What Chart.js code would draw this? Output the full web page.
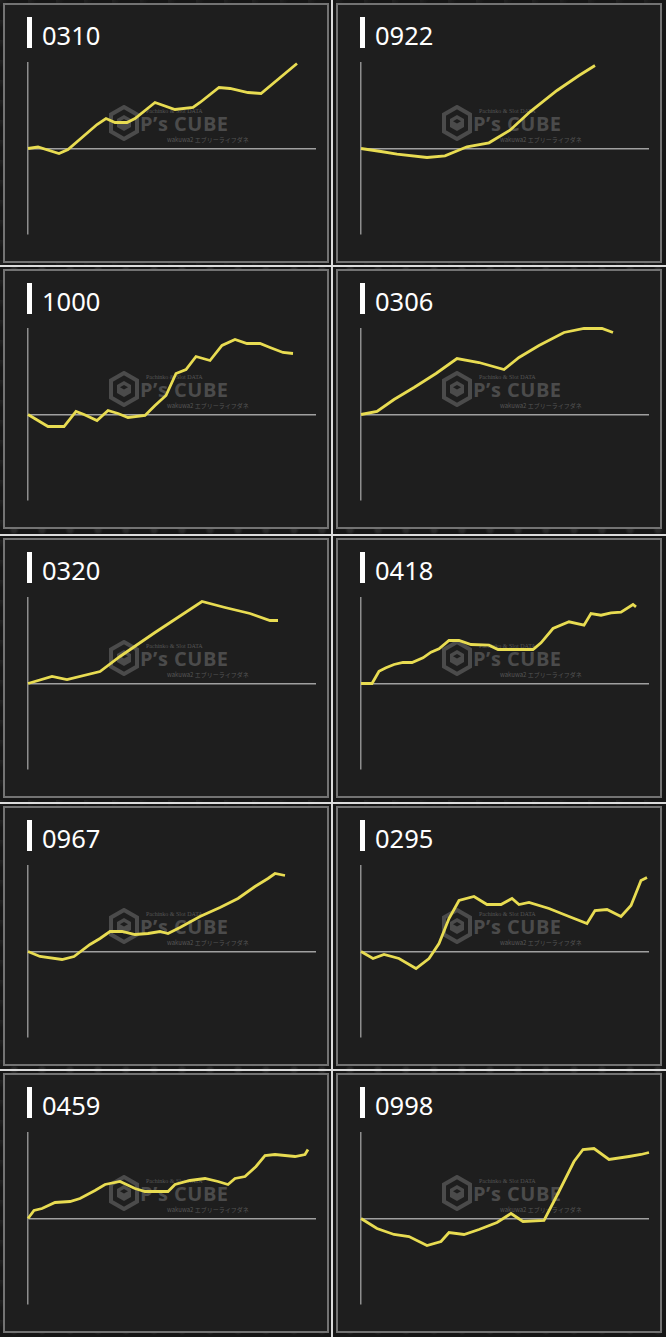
<!DOCTYPE html>
<html>
<head>
<meta charset="utf-8">
<script src="https://cdn.jsdelivr.net/npm/chart.js@4/dist/chart.umd.min.js"></script>
<style>
  html, body { margin: 0; padding: 0; }
  body {
    width: 666px; height: 1337px; position: relative; overflow: hidden;
    background-color: #161616;
    background-image: radial-gradient(circle at 50% 50%, #2a2a2a 0, #2a2a2a 2px, transparent 5px),
                      radial-gradient(circle at 0 0, #222 0, transparent 8px);
    background-size: 28px 20px, 28px 20px;
  }
  .sep-h { position: absolute; left: 0; width: 666px; height: 2px; background: #dcdcdc; }
  .sep-v { position: absolute; top: 0; width: 2px; height: 1337px; background: #dcdcdc; left: 331px; }
  .panel {
    position: absolute; width: 322px; height: 256px;
    background: #1e1e1e; border: 2px solid #737373;
  }
  .bar { position: absolute; left: 22px; top: 12px; width: 5px; height: 31px; background: #fff; }
  .title {
    position: absolute; left: 37px; top: 13px; color: #fff;
    font-family: "Noto Sans", "DejaVu Sans", sans-serif; font-size: 25.5px; line-height: 34px;
  }
  .mark { position: absolute; left: 104px; top: 100px; width: 130px; height: 42px; color: #4b4b4b; }
  .mark svg { position: absolute; left: 0; top: 0; }
  .mark .big { position: absolute; left: 31px; top: 8px; font: bold 20px/22px "Open Sans", "DejaVu Sans", sans-serif; letter-spacing: 0.5px; }
  .mark .s1 { position: absolute; left: 37px; top: 3px; font: 6px/7px "Liberation Serif", serif; color: #555; }
  .mark .s2 { position: absolute; left: 58px; top: 31px; font: 6px/7px "Noto Sans CJK JP", sans-serif; color: #555; white-space: nowrap; }
  canvas { position: absolute; left: 13px; top: 48px; }
</style>
</head>
<body>
<script>
// panel labels, in reading order (left, right per row)
const panelIds = ['0310', '0922', '1000', '0306', '0320', '0418', '0967', '0295', '0459', '0998'];

// each series: [game offset, difference] (axis range 0..288, -85.5..85.5)
const s0310 = [[0,0],[10,1.5],[31,-5],[40,-1],[69,24],[78,30],[87,26],[99,26],[107,30],[127,46],[147,39],[165,41],[172,46],[191,61],[202,60],[220,56],[233,55],[269,85]];
const s0922 = [[0,0],[20,-3],[36,-5.7],[66,-9],[84,-7.3],[106,1.7],[128,5.7],[149,18.3],[169,36.7],[196,58],[218,73],[234,83]];
const s1000 = [[0,0],[20,-12],[36,-12],[48,3],[56,0],[69,-6],[80,4],[90,1],[100,-3],[117,-1],[127,9],[138,19],[148,41],[158,45],[168,58],[182,54],[194,69],[207,75],[219,71],[232,71],[242,67],[255,62],[265,61]];
const s0306 = [[0,0],[16,3],[33,15],[53,27],[75,41],[96,56],[118,52],[143,45],[158,57],[178,69],[203,82],[223,86],[241,86],[252,82]];
const s0320 = [[0,0],[24,7],[39,4],[72,12],[92,27],[127,51],[174,82],[197,76],[222,70],[242,63],[250,63]];
const s0418 = [[0,0],[11,0],[18,12.3],[25,15.7],[33,19],[42,21],[51,21],[62,25.7],[70,31.3],[78,34.7],[88,43],[98,43],[110,39],[128,38.3],[137,34],[152,34],[172,34],[180,40.7],[192,55],[208,61.7],[223,58.3],[230,70],[240,68.3],[250,70.7],[260,71.3],[272,79],[275,76.7]];
const s0967 = [[0,0],[12,-5],[34,-8],[46,-5],[62,7],[72,13],[82,20],[94,20],[107,17],[120,18],[132,20],[140,18],[152,24],[172,35],[192,44],[210,53],[227,65],[240,73],[247,78],[257,76]];
const s0295 = [[0,0],[12,-7],[23,-3],[38,-7],[55,-17],[68,-7],[78,8],[88,33],[98,51],[113,55],[126,47],[140,47],[151,53],[158,47],[168,49],[188,43],[208,35],[226,28],[234,41],[246,42],[260,35],[270,46],[280,71],[286,74]];
const s0459 = [[0,0],[6,8],[14,10],[27,16],[42,17],[52,20],[67,28],[77,34],[92,37],[107,30],[117,27],[140,27],[147,34],[162,38],[177,40],[190,37],[200,34],[207,40],[217,42],[228,52],[237,63],[247,64],[267,62],[277,64],[280,69]];
const s0998 = [[0,0],[16,-10],[33,-16],[48,-18],[66,-27],[80,-23],[88,-14],[103,-16],[118,-11],[136,-4],[150,5],[162,-3],[183,-2],[198,27],[213,57],[222,69],[233,70],[248,59],[268,62],[280,64],[288,66]];

const allSeries = [s0310, s0922, s1000, s0306, s0320, s0418, s0967, s0295, s0459, s0998];
const xMax = 288;
const yLimit = 85.5;

const rowTops = [3, 269, 538, 806, 1073];
const colLefts = [3, 336];

[265, 534, 802, 1069].forEach(y => {
    const d = document.createElement('div');
    d.className = 'sep-h';
    d.style.top = y + 'px';
    document.body.appendChild(d);
});
const sepV = document.createElement('div');
sepV.className = 'sep-v';
document.body.appendChild(sepV);

const hexSvg = `<svg width="30" height="36" viewBox="0 0 30 36">
  <polygon points="15,2 28,9.5 28,26.5 15,34 2,26.5 2,9.5" fill="none" stroke="#4b4b4b" stroke-width="4"/>
  <polygon points="15,10 22,14 22,22 15,26 8,22 8,14" fill="#4b4b4b"/>
  <polygon points="15,14 19,16.3 15,18.6 11,16.3" fill="#1e1e1e"/>
</svg>`;

panelIds.forEach((id, i) => {
    const panel = document.createElement('div');
    panel.className = 'panel';
    panel.style.left = colLefts[i % 2] + 'px';
    panel.style.top = rowTops[Math.floor(i / 2)] + 'px';
    panel.innerHTML = `
        <div class="bar"></div>
        <div class="title">${id}</div>
        <div class="mark">${hexSvg}
            <span class="s1">Pachinko &amp; Slot DATA</span>
            <span class="big">P’s CUBE</span>
            <span class="s2">wakuwa2 エブリーライフダネ</span>
        </div>`;
    const canvas = document.createElement('canvas');
    canvas.width = 312;
    canvas.height = 192;
    canvas.style.width = '312px';
    canvas.style.height = '192px';
    panel.appendChild(canvas);
    document.body.appendChild(panel);

    new Chart(canvas.getContext('2d'), {
        type: 'line',
        data: {
            datasets: [{
                data: allSeries[i].map(([x, y]) => ({ x, y })),
                borderColor: 'rgb(232, 220, 82)',
                borderWidth: 2.8,
                pointRadius: 0,
                tension: 0,
                fill: false,
                clip: false
            }]
        },
        options: {
            responsive: false,
            animation: false,
            events: [],
            layout: { padding: { left: 10, top: 10, right: 14, bottom: 11 } },
            plugins: { legend: { display: false }, tooltip: { enabled: false } },
            scales: {
                x: { type: 'linear', min: 0, max: xMax, display: false },
                y: {
                    min: -yLimit, max: yLimit,
                    afterBuildTicks: scale => { scale.ticks = [{ value: 0 }]; },
                    afterFit: scale => { scale.width = 0; },
                    ticks: { display: false },
                    grid: { drawTicks: false, color: '#a0a0a0', lineWidth: 1.5 },
                    border: { display: true, color: '#8e8e8e', width: 1.5 }
                }
            }
        }
    });
});
</script>
</body>
</html>
